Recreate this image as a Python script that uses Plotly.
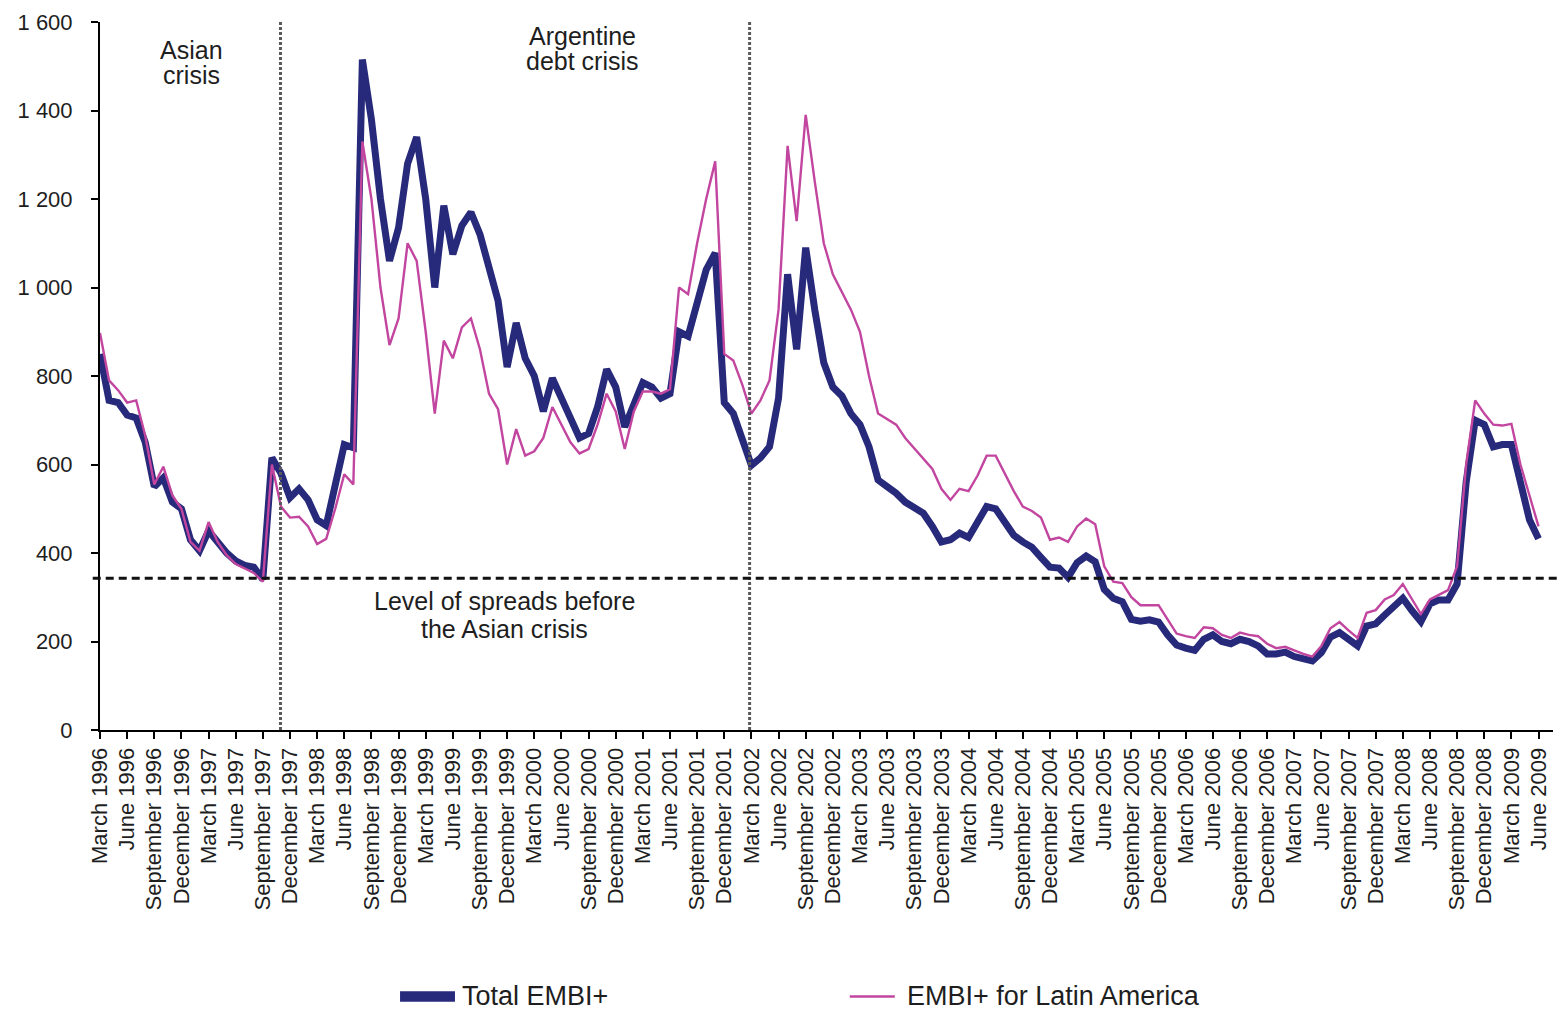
import plotly.graph_objects as go

# ---------------- data ----------------
MONTH_NAMES = ["January", "February", "March", "April", "May", "June", "July",
               "August", "September", "October", "November", "December"]
# monthly observations, March 1996 .. June 2009
MONTHS = []
y, m = 1996, 3
while (y, m) <= (2009, 6):
    MONTHS.append(f"{MONTH_NAMES[m-1]} {y}")
    m += 1
    if m > 12:
        m = 1
        y += 1

TOTAL_EMBI = [
    850, 745, 740, 712, 705, 650, 550, 570, 515, 500,
    430, 405, 450, 425, 400, 382, 372, 368, 340, 615,
    580, 525, 545, 520, 475, 462, 560, 645, 638, 1515,
    1380, 1200, 1060, 1135, 1280, 1340, 1200, 1000, 1185, 1075,
    1140, 1170, 1120, 1040, 970, 820, 920, 840, 800, 720,
    795, 750, 707, 660, 670, 730, 815, 775, 685, 740,
    785, 775, 750, 760, 900, 890, 970, 1040, 1078, 740,
    715, 660, 598, 615, 640, 750, 1030, 860, 1090, 950,
    830, 775, 755, 715, 690, 640, 565, 550, 535, 515,
    503, 490, 460, 425, 430, 445, 435, 470, 505, 500,
    470, 440, 425, 413, 390, 368, 366, 345, 378, 393,
    380, 318, 298, 290, 250, 246, 249, 244, 215, 192,
    185, 180, 205, 215, 200, 195, 205, 200, 190, 172,
    172, 176, 166, 160, 156, 175, 210, 220, 205, 190,
    235, 240, 260, 280, 298, 270, 245, 285, 294, 294,
    330, 560, 700, 690, 640, 645, 645, 560, 475, 432,
]

LATAM_EMBI = [
    897, 790, 768, 740, 745, 665, 555, 595, 530, 500,
    425, 405, 470, 425, 395, 375, 365, 355, 335, 600,
    505, 480, 482, 460, 420, 432, 500, 578, 555, 1330,
    1200, 1000, 870, 930, 1100, 1060, 900, 715, 880, 840,
    910, 930, 860, 760, 725, 600, 680, 620, 630, 660,
    730, 690, 650, 625, 635, 690, 760, 720, 635, 720,
    765, 765, 760, 770, 1000, 985, 1100, 1200, 1285, 850,
    835, 780, 715, 745, 790, 950, 1320, 1150, 1390, 1240,
    1100, 1030, 990, 950, 900, 800, 715, 703, 690, 660,
    637, 615, 590, 545, 520, 545, 540, 575, 620, 620,
    580, 540, 505, 495, 480, 430, 435, 425, 460, 478,
    465, 370, 335, 332, 300, 282, 282, 282, 250, 218,
    212, 208, 232, 230, 215, 208, 220, 215, 212, 195,
    185, 188, 180, 172, 166, 190, 230, 244, 225, 208,
    265, 271, 295, 305, 330, 295, 262, 295, 305, 316,
    370, 600, 745, 715, 690, 688, 692, 600, 530, 460,
]

PRE_CRISIS_LEVEL = 343          # level of spreads before the Asian crisis
CRISIS_MARKERS = [19.95, 71.8]  # month-index positions of the vertical dividers

Y_TICKS = [0, 200, 400, 600, 800, 1000, 1200, 1400, 1600]
Y_TICK_TEXT = ["0", "200", "400", "600", "800", "1 000", "1 200", "1 400", "1 600"]

SERIES_NAMES = ["Total EMBI+", "EMBI+ for Latin America"]

# ---------------- styles ----------------
NAVY = "#27297a"
PINK = "#c2469f"
FONT = "Liberation Sans, Arial, sans-serif"
TXT = "#1e1e1e"

fig = go.Figure()
fig.add_trace(go.Scatter(x=MONTHS, y=TOTAL_EMBI, mode="lines",
                         line=dict(color=NAVY, width=7), name=SERIES_NAMES[0],
                         showlegend=False))
fig.add_trace(go.Scatter(x=MONTHS, y=LATAM_EMBI, mode="lines",
                         line=dict(color=PINK, width=2.4), name=SERIES_NAMES[1],
                         showlegend=False))

shapes = []
for xv in CRISIS_MARKERS:
    shapes.append(dict(type="line", xref="x", yref="paper", x0=xv, x1=xv, y0=0, y1=1,
                       line=dict(color="#5a5a5a", width=3, dash="3px,2px")))
shapes.append(dict(type="line", xref="paper", yref="y", x0=-0.005, x1=1.006,
                   y0=PRE_CRISIS_LEVEL, y1=PRE_CRISIS_LEVEL,
                   line=dict(color="#111111", width=3, dash="8px,5px")))
# legend swatches
shapes.append(dict(type="rect", xref="paper", yref="paper", x0=0.2065, x1=0.2443,
                   y0=-0.384, y1=-0.369, fillcolor=NAVY, line=dict(width=0)))
shapes.append(dict(type="line", xref="paper", yref="paper", x0=0.516, x1=0.547,
                   y0=-0.3765, y1=-0.3765, line=dict(color=PINK, width=2.5)))

annotations = []
def txt(text, x, y, size=25, xanchor="center"):
    annotations.append(dict(text=text, x=x, y=y, xref="paper", yref="paper",
                            xanchor=xanchor, yanchor="middle", showarrow=False,
                            font=dict(family=FONT, size=size, color=TXT)))

txt("Asian", 0.0633, 0.9605)
txt("crisis", 0.0633, 0.925)
txt("Argentine", 0.3324, 0.980)
txt("debt crisis", 0.3324, 0.945)
txt("Level of spreads before", 0.2787, 0.182)
txt("the Asian crisis", 0.2787, 0.1427)
txt(SERIES_NAMES[0], 0.2478, -0.376, size=27, xanchor="left")
txt(SERIES_NAMES[1], 0.554, -0.376, size=27, xanchor="left")

# the page body adds an 8px offset, so the figure is 8px smaller and margins shifted
fig.update_layout(
    width=1558, height=1006,
    margin=dict(l=92, r=13, t=14, b=284, autoexpand=False),
    paper_bgcolor="white", plot_bgcolor="white",
    font=dict(family=FONT, color=TXT),
    shapes=shapes, annotations=annotations,
    showlegend=False,
)
fig.update_xaxes(
    type="category", range=[0, 160.6],
    tickmode="array", tickvals=MONTHS[::3], ticktext=MONTHS[::3],
    tickangle=-90, tickfont=dict(family=FONT, size=22, color=TXT),
    showline=True, linecolor="black", linewidth=2, mirror=False,
    ticks="outside", ticklen=7, tickwidth=2, tickcolor="black",
    showgrid=False, zeroline=False, automargin=False,
)
fig.update_yaxes(
    range=[0, 1600], tickmode="array", tickvals=Y_TICKS, ticktext=Y_TICK_TEXT,
    tickfont=dict(family=FONT, size=22, color=TXT),
    showline=True, linecolor="black", linewidth=2,
    ticks="outside", ticklen=7, tickwidth=2, tickcolor="black",
    ticklabelstandoff=14,
    showgrid=False, zeroline=False, automargin=False,
)

fig.write_html("out.html")
